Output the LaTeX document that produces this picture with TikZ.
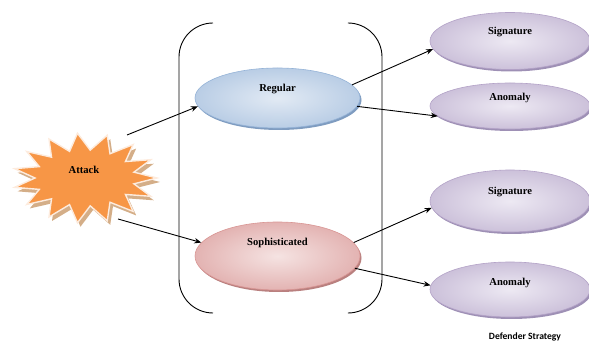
\documentclass[tikz,border=0pt]{standalone}
\usepackage{fontspec}
\setmainfont{Liberation Serif}
\newfontfamily\calib{Carlito}
\usetikzlibrary{shapes.geometric,arrows.meta,shadows}
\definecolor{starfill}{HTML}{F79646}
\definecolor{starshade}{HTML}{D4AE88}
\definecolor{starrim}{HTML}{FDEBDD}
\definecolor{regin}{HTML}{E2EAF4}
\definecolor{regout}{HTML}{B9CDE5}
\definecolor{regline}{HTML}{95B3D7}
\definecolor{regshade}{HTML}{7F9CC0}
\definecolor{sophin}{HTML}{F5E3E2}
\definecolor{sophout}{HTML}{E3B3B2}
\definecolor{sophline}{HTML}{D99694}
\definecolor{sophshade}{HTML}{B9807F}
\definecolor{purin}{HTML}{EDE9F3}
\definecolor{purout}{HTML}{CCC1DA}
\definecolor{purline}{HTML}{B3A2C7}
\definecolor{purshade}{HTML}{9E90B5}
\begin{document}
\begin{tikzpicture}[x=1pt,y=-1pt,
  oval/.style={ellipse, inner sep=0pt, line width=0.6pt, shading=radial},
  regoval/.style={oval, inner color=regin, outer color=regout, draw=regline,
     drop shadow={shadow xshift=1.5pt, shadow yshift=-2pt, opacity=1, fill=regshade}},
  sophoval/.style={oval, inner color=sophin, outer color=sophout, draw=sophline,
     drop shadow={shadow xshift=1.5pt, shadow yshift=-2pt, opacity=1, fill=sophshade}},
  puroval/.style={oval, minimum width=160pt, inner color=purin, outer color=purout, draw=purline,
     drop shadow={shadow xshift=1.5pt, shadow yshift=-2pt, opacity=1, fill=purshade}},
  lbl/.style={font=\bfseries\fontsize{10.6}{12}\selectfont, text=black},
  arr/.style={-{Stealth[length=7pt,width=5.5pt]}, line width=0.9pt},
  bracket/.style={line width=0.9pt, rounded corners=34pt}]
\useasboundingbox (0,0) rectangle (589,344);
\clip (0,0) rectangle (589,344);

% attack starburst
\path[fill=starshade, shift={(88,182)}] (0:72 and 45)
  \foreach \k in {1,...,15} { -- ({(\k-0.5)*24}:50 and 28) -- ({\k*24}:72 and 45) } -- cycle;
\path[fill=starfill, draw=starrim, line width=1.4pt, shift={(85,178)}] (0:72 and 45)
  \foreach \k in {1,...,15} { -- ({(\k-0.5)*24}:50 and 28) -- ({\k*24}:72 and 45) } -- cycle;
\node[lbl] (attack) at (84,170) {Attack};
\coordinate (atkA) at (127,135);
\coordinate (atkB) at (118,219);

% brackets
\draw[bracket] (213,23) -- (179,23) -- (179,313) -- (213,313);
\draw[bracket] (349,23) -- (382,23) -- (382,313) -- (349,313);

% middle ellipses
\node[regoval, minimum width=165pt, minimum height=60pt,
      label={[lbl,yshift=9pt]center:Regular}] (reg) at (277.5,98) {};
\node[sophoval, minimum width=165pt, minimum height=68pt,
      label={[lbl,yshift=13pt]center:Sophisticated}] (soph) at (277.5,256) {};

% right ellipses
\node[puroval, minimum height=57pt, label={[lbl,yshift=9pt]center:Signature}] (sig1) at (510,41) {};
\node[puroval, minimum height=46pt, label={[lbl,yshift=8pt]center:Anomaly}] (ano1) at (510,106) {};
\node[puroval, minimum height=62pt, label={[lbl,yshift=9pt]center:Signature}] (sig2) at (510,201) {};
\node[puroval, minimum height=55pt, label={[lbl,yshift=7pt]center:Anomaly}] (ano2) at (510,289.5) {};

\node[font=\calib\bfseries\fontsize{9.6}{11}\selectfont] (def) at (525,337) {Defender Strategy};

% connectors
\draw[arr] (atkA) -- (reg.186);
\draw[arr] (atkB) -- (soph.170);
\draw[arr] (reg.10) -- (sig1.186);
\draw[arr] (reg.-6) -- (ano1.188);
\draw[arr] (soph.10) -- (sig2.185);
\draw[arr] (soph.-9) -- (ano2.177);
\end{tikzpicture}
\end{document}
